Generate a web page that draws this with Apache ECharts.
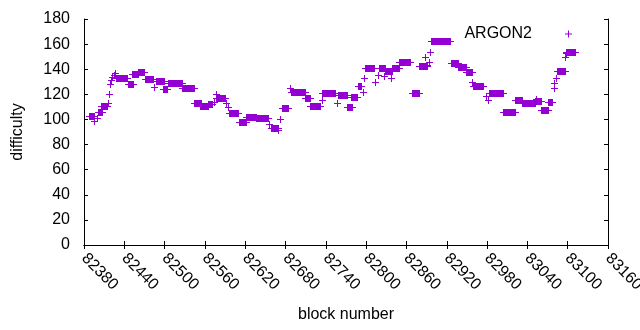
<!DOCTYPE html>
<html>
<head>
    <meta charset="utf-8">
    <title>ARGON2 difficulty</title>
    <script src="https://cdn.jsdelivr.net/npm/echarts@6/dist/echarts.min.js"></script>
</head>
<body style="margin:0">
    <div id="main" style="width: 640px;height:330px;"></div>

    <script type="text/javascript">
        // stretches where difficulty stays constant: [first block, last block, difficulty]
        var runs = [
            [82387, 82395, 102.5], [82401, 82407, 105.7], [82406, 82414, 110.7],
            [82427, 82444, 133.4], [82446, 82453, 128.2], [82452, 82460, 136],
            [82460, 82469, 137.5], [82471, 82483, 132], [82487, 82499, 130.7],
            [82498, 82504, 124.2], [82505, 82526, 128.7], [82526, 82543, 125.4],
            [82544, 82554, 112.8], [82553, 82565, 110.7], [82565, 82571, 112.5],
            [82577, 82590, 117], [82596, 82609, 105.5], [82610, 82621, 97.7],
            [82621, 82636, 101.7], [82636, 82654, 100.9], [82659, 82669, 93.4],
            [82675, 82683, 108.8], [82688, 82709, 121.5], [82709, 82716, 116.8],
            [82716, 82731, 110.4], [82735, 82754, 120.8], [82758, 82771, 119.2],
            [82772, 82779, 110], [82777, 82787, 117.6], [82788, 82793, 126.4],
            [82798, 82811, 140.7], [82819, 82828, 141.2], [82828, 82838, 138.3],
            [82838, 82849, 140.7], [82849, 82865, 145.5], [82868, 82878, 120.8],
            [82878, 82890, 142.8], [82897, 82925, 162.2], [82926, 82937, 145.3],
            [82937, 82949, 141.6], [82949, 82957, 137.4], [82959, 82974, 126.6],
            [82983, 83004, 120.8], [83004, 83022, 106.1], [83022, 83032, 115.5],
            [83032, 83051, 112.8], [83051, 83060, 114.5], [83061, 83071, 107.5],
            [83070, 83077, 114.1], [83084, 83096, 138.6], [83097, 83111, 153.4]
        ];

        // isolated blocks: [block, difficulty]
        var singles = [
            [82395, 99], [82399, 101.5], [82415, 113.3], [82417, 120], [82419, 128],
            [82420, 131.4], [82422, 134], [82424, 135.5], [82426, 137], [82484, 125.5],
            [82573, 114], [82576, 120.5], [82591, 113.3], [82594, 109.6], [82656, 96.1],
            [82669, 91.6], [82672, 100.3], [82686, 125.3], [82734, 115.4], [82756, 112.8],
            [82773, 110], [82796, 122.1], [82797, 132.7], [82813, 129.5], [82817, 135.4],
            [82827, 134.8], [82837, 133.2], [82888, 149.4], [82890, 143.3], [82894, 146],
            [82895, 153.4], [82957, 129.5], [82978, 118.9], [82982, 115.4], [83053, 116.3],
            [83079, 125.3], [83080, 128.7], [83082, 132.7], [83096, 150], [83097, 152.6]
        ];

        var COLOR = '#9400d3';
        var FONT = 'Liberation Sans, Arial, sans-serif';
        var plus = 'path://M0,3H7V4H0Z M3,0H4V7H3Z';

        var myChart = echarts.init(document.getElementById('main'));

        var points = runs.concat(singles.map(function (s) { return [s[0], s[0], s[1]]; }));

        // every block is a "+" mark; long runs of them merge into a solid bar
        function renderPlus(params, api) {
            var p0 = api.coord([api.value(0), api.value(2)]);
            var p1 = api.coord([api.value(1), api.value(2)]);
            var x0 = Math.round(p0[0]), x1 = Math.round(p1[0]), y = Math.round(p0[1]);
            var h = 3;
            return {
                type: 'group',
                children: [
                    { type: 'rect', shape: { x: x0, y: y - h, width: x1 - x0 + 1, height: 2 * h + 1 }, style: { fill: COLOR } },
                    { type: 'rect', shape: { x: x0 - h, y: y, width: x1 - x0 + 2 * h + 1, height: 1 }, style: { fill: COLOR } }
                ]
            };
        }

        var tickStyle = { inside: true, length: 4, lineStyle: { color: '#000' } };
        var lineStyle = { show: true, lineStyle: { color: '#000', width: 1 } };

        var option = {
            animation: false,
            textStyle: { fontFamily: FONT },
            grid: { left: 84, right: 32, top: 19, bottom: 85, containLabel: false, outerBoundsMode: 'none' },
            legend: {
                data: [{ name: 'ARGON2', icon: plus }],
                top: 26,
                right: 68,
                padding: 0,
                align: 'right',
                itemWidth: 7,
                itemHeight: 7,
                textStyle: { fontFamily: FONT, fontSize: 16, color: '#000', padding: [0, 28, 0, 0] }
            },
            xAxis: [{
                type: 'value',
                min: 82380,
                max: 83160,
                interval: 60,
                name: 'block number',
                nameLocation: 'middle',
                nameGap: 62,
                nameTextStyle: { fontFamily: FONT, fontSize: 16, color: '#000' },
                axisLine: lineStyle,
                axisTick: tickStyle,
                splitLine: { show: false },
                axisLabel: {
                    rotate: -45, margin: 11, fontFamily: FONT, fontSize: 16, color: '#000',
                    formatter: function (v) { return String(v); }
                }
            }, {
                type: 'value',
                position: 'top',
                min: 82380,
                max: 83160,
                interval: 60,
                axisLine: lineStyle,
                axisTick: tickStyle,
                splitLine: { show: false },
                axisLabel: { show: false }
            }],
            yAxis: [{
                type: 'value',
                min: 0,
                max: 180,
                interval: 20,
                name: 'difficulty',
                nameLocation: 'middle',
                nameGap: 58,
                nameTextStyle: { fontFamily: FONT, fontSize: 16, color: '#000' },
                axisLine: lineStyle,
                axisTick: tickStyle,
                splitLine: { show: false },
                axisLabel: { margin: 14, fontFamily: FONT, fontSize: 16, color: '#000' }
            }, {
                type: 'value',
                position: 'right',
                min: 0,
                max: 180,
                interval: 20,
                axisLine: lineStyle,
                axisTick: tickStyle,
                splitLine: { show: false },
                axisLabel: { show: false }
            }],
            series: [{
                name: 'ARGON2',
                type: 'custom',
                renderItem: renderPlus,
                itemStyle: { color: COLOR },
                encode: { x: [0, 1], y: 2 },
                data: points
            }]
        };

        myChart.setOption(option);
    </script>
</body>
</html>
